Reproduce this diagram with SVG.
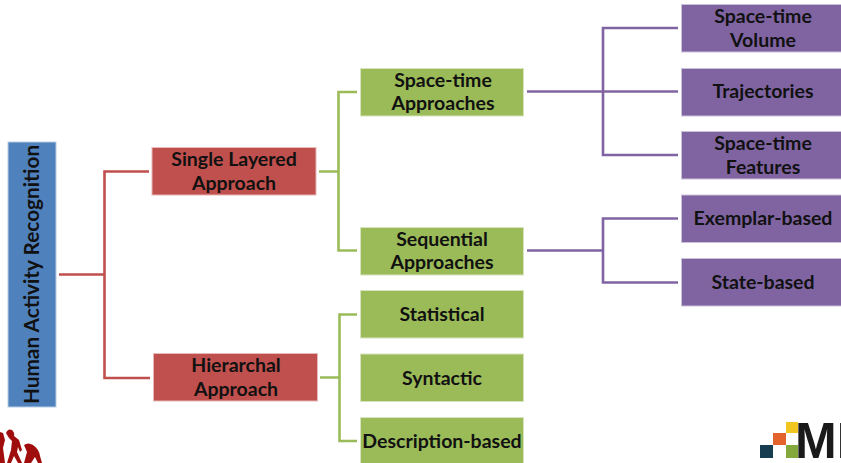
<svg xmlns="http://www.w3.org/2000/svg" width="841" height="463" viewBox="0 0 841 463">
<style>
.b{stroke-width:1}
.blue{fill:#4f81bd;stroke:#b9cde5}
.red{fill:#c0504d;stroke:#e6b9b8}
.green{fill:#9bbb59;stroke:#d7e4bd}
.purple{fill:#8064a2;stroke:#ccc1da}
text{font-family:"Lato","Open Sans","Liberation Sans",sans-serif;font-weight:700;font-size:19.500px;fill:#111;text-anchor:middle}
.c{fill:none;stroke-width:2.6;stroke-linejoin:miter}
.cr{stroke:#c0504d}.cg{stroke:#9bbb59}.cp{stroke:#8064a2}
.logo{fill:#a00d0d}
</style>
<g id="connectors">
<path class="c cr" d="M59 274.500H104.500M149 171.500H104.500V378H150"/>
<path class="c cg" d="M319 171.500H338.500M357 92H338.500V250.500H357"/>
<path class="c cg" d="M320 377.500H339.500M357 314.500H339.500V441H357"/>
<path class="c cp" d="M527 91.500H678M678 28H603V155H678"/>
<path class="c cp" d="M527 250.500H603M678 218.500H603V282.500H678"/>
</g>
<g id="n-root"><rect class="b blue" x="8" y="142" width="48" height="265"/><text transform="translate(39 274.500) rotate(-90)" style="font-size:20.800px">Human Activity Recognition</text></g>
<g id="n-single"><rect class="b red" x="152" y="147.500" width="164" height="47.500"/><text x="234" y="166">Single Layered</text><text x="234" y="189.500">Approach</text></g>
<g id="n-hier"><rect class="b red" x="153.500" y="353.500" width="164" height="47.500"/><text x="236" y="372">Hierarchal</text><text x="236" y="395.500">Approach</text></g>
<g id="n-spacetime"><rect class="b green" x="360.500" y="68.500" width="163" height="47.500"/><text x="443" y="87">Space-time</text><text x="443" y="110">Approaches</text></g>
<g id="n-seq"><rect class="b green" x="360.500" y="227.500" width="163" height="47.500"/><text x="442" y="245.500">Sequential</text><text x="442" y="269">Approaches</text></g>
<g id="n-stat"><rect class="b green" x="360.500" y="290.500" width="163" height="47.500"/><text x="442" y="320.500">Statistical</text></g>
<g id="n-syn"><rect class="b green" x="360.500" y="354" width="163" height="47.500"/><text x="442" y="384.500">Syntactic</text></g>
<g id="n-desc"><rect class="b green" x="360.500" y="417.500" width="163" height="47.500"/><text x="442" y="447.500">Description-based</text></g>
<g id="n-volume"><rect class="b purple" x="681.500" y="4.500" width="165" height="47.500"/><text x="763" y="23">Space-time</text><text x="763" y="46.500">Volume</text></g>
<g id="n-traj"><rect class="b purple" x="681.500" y="68.500" width="165" height="47.500"/><text x="763" y="98">Trajectories</text></g>
<g id="n-feat"><rect class="b purple" x="681.500" y="131.500" width="165" height="47.500"/><text x="763" y="150">Space-time</text><text x="763" y="173.500">Features</text></g>
<g id="n-exemplar"><rect class="b purple" x="681.500" y="195" width="165" height="47.500"/><text x="763" y="225">Exemplar-based</text></g>
<g id="n-state"><rect class="b purple" x="681.500" y="258.500" width="165" height="47.500"/><text x="763" y="288.500">State-based</text></g>
<g id="logo-left">
<path class="logo" d="M0 432L3 433L5 440L3 448L5 463H0Z"/>
<path class="logo" d="M6 433Q8 428 12 430Q15 433 14 436L19 440L22 450L20 452L18 447L17 452L22 463H18L14 456L11 463H7L11 450L12 441L9 438Z"/>
<path class="logo" d="M24 445Q28 442 33 445Q39 449 40 456L42 463H38L35 457L31 463H27L29 457L27 463H24L27 452Z"/>
</g>
<g id="logo-right">
<rect x="760" y="445" width="13" height="13" fill="#173e50"/>
<rect x="773" y="433" width="13" height="12" fill="#e4622c"/>
<rect x="786" y="422" width="12" height="11" fill="#f2c621"/>
<rect x="786" y="445" width="12" height="13" fill="#85a83c"/>
<text x="795" y="458" style="font-family:'Liberation Sans',sans-serif;font-size:50px;text-anchor:start;fill:#1a1a1a">MD</text>
</g>
</svg>
